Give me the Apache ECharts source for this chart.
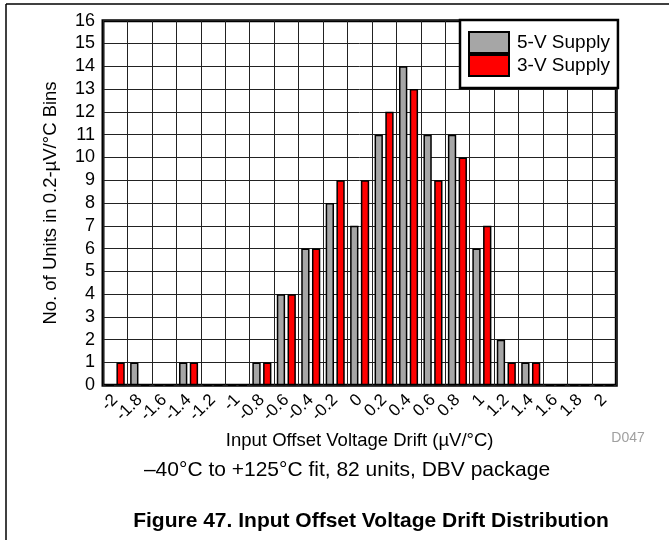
<!DOCTYPE html>
<html>
<head>
<meta charset="utf-8">
<title>Input Offset Voltage Drift Distribution</title>
<script src="https://cdn.jsdelivr.net/npm/echarts@6/dist/echarts.min.js"></script>
<style>
  html, body { margin: 0; padding: 0; background: #fff; }
  #chart { width: 669px; height: 540px; }
</style>
</head>
<body>
<div id="chart"></div>
<script>
// Drift bins (µV/°C), 0.2 wide
const driftBins = ['-2', '-1.8', '-1.6', '-1.4', '-1.2', '-1', '-0.8', '-0.6', '-0.4', '-0.2',
  '0', '0.2', '0.4', '0.6', '0.8', '1', '1.2', '1.4', '1.6', '1.8', '2'];

// Unit counts per bin
const supply5V = [0, 1, 0, 1, 0, 0, 1, 4, 6, 8, 7, 11, 14, 11, 11, 6, 2, 1, 0, 0, 0];
const supply3V = [1, 0, 0, 1, 0, 0, 1, 4, 6, 9, 9, 12, 13, 9, 10, 7, 1, 1, 0, 0, 0];

const seriesNames = ['5-V Supply', '3-V Supply'];
const yTicks = { min: 0, max: 16, step: 1 };

const FONT = '"Liberation Sans", Arial, Helvetica, sans-serif';

const chart = echarts.init(document.getElementById('chart'), null, { renderer: 'canvas' });

const barStyle = (color) => ({
  color: color,
  borderColor: '#000',
  borderWidth: 1.5
});

chart.setOption({
  animation: false,
  backgroundColor: '#fff',
  textStyle: { fontFamily: FONT },
  grid: {
    left: 103,
    top: 20.7,
    right: 52.7,
    bottom: 154.7,
    show: true,
    borderColor: '#000',
    borderWidth: 3,
    backgroundColor: 'transparent'
  },
  legend: {
    orient: 'vertical',
    left: 460,
    top: 20,
    padding: [11, 8, 11, 8],
    itemGap: 0,
    itemWidth: 40,
    itemHeight: 21,
    icon: 'rect',
    backgroundColor: '#fff',
    borderColor: '#000',
    borderWidth: 2.5,
    borderRadius: 0,
    textStyle: { fontFamily: FONT, fontSize: 19, color: '#000', padding: [0, 0, 0, 3] },
    data: seriesNames,
    selectedMode: false
  },
  xAxis: {
    type: 'category',
    data: driftBins,
    boundaryGap: true,
    axisLine: { show: false },
    axisTick: { show: false },
    axisLabel: {
      interval: 0,
      rotate: 45,
      margin: 12,
      fontFamily: FONT,
      fontSize: 17,
      color: '#000'
    },
    splitLine: { show: true, interval: 0, lineStyle: { color: '#222', width: 1 } },
    name: 'Input Offset Voltage Drift (µV/°C)',
    nameLocation: 'middle',
    nameGap: 43,
    nameTextStyle: { fontFamily: FONT, fontSize: 18.5, color: '#000' }
  },
  yAxis: {
    type: 'value',
    min: yTicks.min,
    max: yTicks.max,
    interval: yTicks.step,
    axisLine: { show: false },
    axisTick: { show: false },
    axisLabel: { margin: 8, fontFamily: FONT, fontSize: 18, color: '#000' },
    splitLine: { show: true, lineStyle: { color: '#222', width: 1 } },
    name: 'No. of Units in 0.2-µV/°C Bins',
    nameLocation: 'middle',
    nameRotate: 90,
    nameGap: 43,
    nameTextStyle: { fontFamily: FONT, fontSize: 18.5, color: '#000' }
  },
  series: [
    {
      name: seriesNames[0],
      type: 'bar',
      data: supply5V,
      barCategoryGap: '22%',
      barGap: '29%',
      itemStyle: barStyle('#a6a6a6')
    },
    {
      name: seriesNames[1],
      type: 'bar',
      data: supply3V,
      barCategoryGap: '22%',
      barGap: '29%',
      itemStyle: barStyle('#ff0000')
    }
  ],
  graphic: [
    // figure frame: top rule and left rule
    { type: 'line', shape: { x1: 6, y1: 4, x2: 669, y2: 4 }, style: { stroke: '#000', lineWidth: 1.5 } },
    { type: 'line', shape: { x1: 6, y1: 4, x2: 6, y2: 540 }, style: { stroke: '#000', lineWidth: 1.5 } },
    {
      type: 'text', x: 628, y: 438,
      style: { text: 'D047', font: '14px ' + FONT, fill: '#a0a0a0', textAlign: 'center', textVerticalAlign: 'middle' }
    },
    {
      type: 'text', x: 347, y: 470,
      style: { text: '–40°C to +125°C fit, 82 units, DBV package', font: '21px ' + FONT, fill: '#000', textAlign: 'center', textVerticalAlign: 'middle' }
    },
    {
      type: 'text', x: 371, y: 521,
      style: { text: 'Figure 47. Input Offset Voltage Drift Distribution', font: 'bold 21px ' + FONT, fill: '#000', textAlign: 'center', textVerticalAlign: 'middle' }
    }
  ]
});
</script>
</body>
</html>
